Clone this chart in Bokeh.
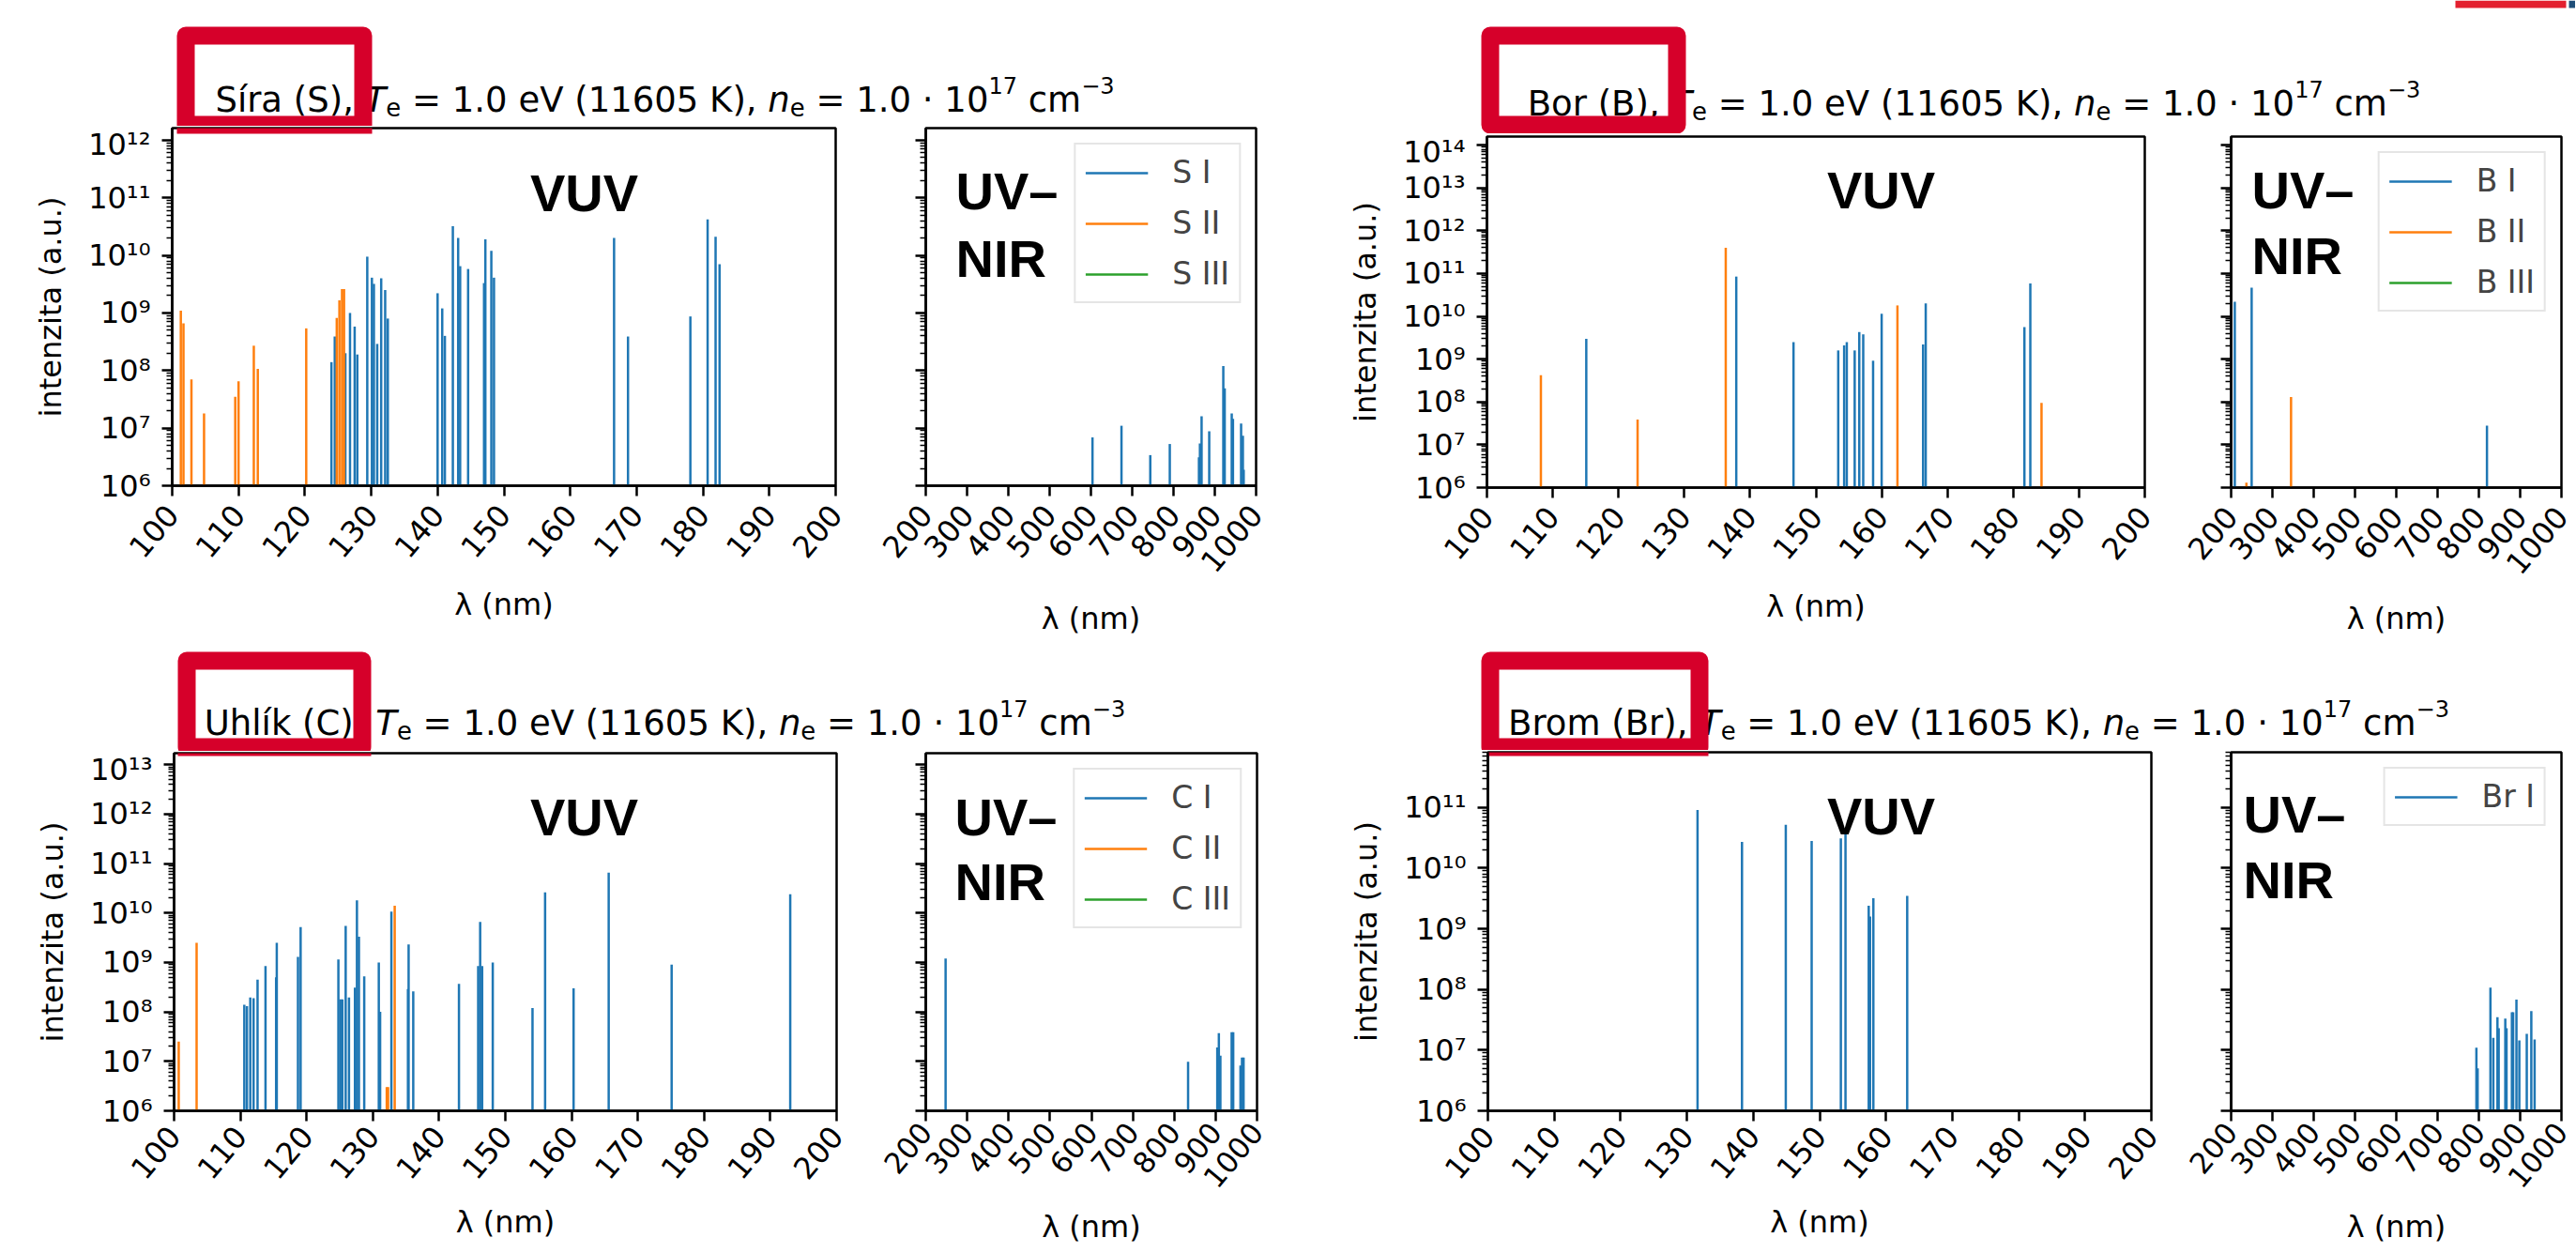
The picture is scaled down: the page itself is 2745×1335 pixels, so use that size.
import math
from bokeh.plotting import figure
from bokeh.layouts import row, column
from bokeh.models import (Range1d, FixedTicker, CustomJSTickFormatter, Legend,
                          LegendItem, ColumnDataSource)
from bokeh.core.properties import value
from bokeh.embed import file_html
from bokeh.resources import INLINE

# ------------------------------------------------------------------ data
# Síra (S)
S_I_wl = [124.0, 124.5, 126.1, 126.8, 127.5, 127.9, 129.4, 130.1, 130.4, 130.9,
          131.5, 132.1, 132.5, 140.0, 140.7, 141.1, 142.3, 143.1, 143.4, 144.6,
          147.0, 147.2, 148.1, 148.5, 166.6, 168.7, 178.1, 180.7, 181.9, 182.5,
          603.8, 674.0, 743.7, 791.0, 861.6, 864.0, 868.0, 886.5, 920.6, 924.0,
          941.0, 944.0, 963.7, 968.0, 970.0]
S_I_int = [1.4e8, 3.9e8, 2.0e8, 1.0e9, 5.8e8, 1.9e8, 9.5e9, 4.1e9, 3.2e9, 2.9e8,
           4.0e9, 2.5e9, 8.0e8, 2.2e9, 1.2e9, 4.0e8, 3.2e10, 2.0e10, 6.5e9, 5.8e9,
           3.3e9, 1.9e10, 1.2e10, 4.1e9, 2.0e10, 3.9e8, 8.7e8, 4.2e10, 2.1e10, 7.0e9,
           6.9e6, 1.1e7, 3.4e6, 5.3e6, 3.1e6, 5.4e6, 1.6e7, 8.8e6, 1.2e8, 4.9e7,
           1.8e7, 1.45e7, 1.2e7, 7.4e6, 1.9e6]
S_II_wl = [101.3, 101.7, 102.9, 104.8, 109.5, 110.0, 112.3, 112.9, 120.2, 124.8,
           125.2, 125.6, 125.9]
S_II_int = [1.1e9, 6.6e8, 7.0e7, 1.8e7, 3.5e7, 6.5e7, 2.7e8, 1.07e8, 5.4e8, 8.2e8,
            1.66e9, 2.6e9, 2.6e9]
S_III_wl = []
S_III_int = []

# Bor (B)
B_I_wl = [115.1, 137.9, 146.6, 153.4, 154.3, 154.7, 155.9, 156.6, 157.2, 158.7,
          160.0, 166.3, 166.7, 181.7, 182.6, 208.9, 249.7, 819.6]
B_I_int = [3.0e9, 8.5e10, 2.5e9, 1.6e9, 2.1e9, 2.5e9, 1.6e9, 4.3e9, 3.8e9, 9.2e8,
           1.15e10, 2.2e9, 2.0e10, 5.6e9, 5.9e10, 2.2e10, 4.7e10, 2.8e7]
B_II_wl = [108.2, 122.9, 136.3, 162.4, 184.3, 237.0, 345.1]
B_II_int = [4.2e8, 3.9e7, 4.0e11, 1.8e10, 9.5e7, 1.3e6, 1.3e8]
B_III_wl = []
B_III_int = []

# Uhlík (C)
C_I_wl = [110.6, 111.0, 111.5, 112.0, 112.6, 113.8, 115.4, 115.5, 118.7, 119.1,
          124.8, 125.1, 125.4, 125.9, 126.4, 127.3, 127.6, 127.9, 128.7, 130.9,
          131.1, 132.8, 135.3, 135.4, 136.1, 143.0, 145.9, 146.2, 146.5, 148.1,
          154.1, 156.0, 160.3, 165.6, 175.1, 193.0, 247.9, 833.5, 904.0, 907.8,
          911.5, 938.7, 942.5, 960.0, 963.7, 967.5]
C_I_int = [1.4e8, 1.3e8, 1.95e8, 1.9e8, 4.5e8, 8.5e8, 5.0e8, 2.5e9, 1.3e9, 5.2e9,
           1.15e9, 1.8e8, 1.8e8, 5.5e9, 1.95e8, 3.1e8, 1.8e10, 3.3e9, 5.2e8, 1.0e9,
           1.0e8, 1.07e10, 2.9e8, 2.3e9, 2.6e8, 3.7e8, 8.5e8, 6.6e9, 8.5e8, 1.0e9,
           1.2e8, 2.6e10, 3.0e8, 6.5e10, 9.0e8, 2.4e10, 1.2e9, 9.8e6, 1.9e7, 3.7e7,
           1.3e7, 3.9e7, 3.9e7, 8.2e6, 1.2e7, 1.2e7]
C_II_wl = [100.7, 103.4, 132.1, 132.3, 133.3]
C_II_int = [2.5e7, 2.5e9, 3.0e6, 3.0e6, 1.4e10]
C_III_wl = []
C_III_int = []

# Brom (Br)
Br_I_wl = [131.6, 138.3, 144.9, 148.8, 153.2, 153.9, 157.4, 157.6, 158.1, 163.2,
           794.0, 797.0, 828.0, 835.0, 845.0, 848.0, 864.0, 867.0, 880.0, 883.0,
           891.0, 898.0, 916.0, 927.0, 935.0]
Br_I_int = [9.1e10, 2.7e10, 5.2e10, 2.8e10, 3.1e10, 3.7e10, 2.4e9, 1.6e9, 3.2e9, 3.5e9,
            1.1e7, 5.0e6, 1.07e8, 1.6e7, 3.5e7, 2.3e7, 3.3e7, 2.3e7, 4.2e7, 4.2e7,
            6.8e7, 1.45e7, 1.85e7, 4.4e7, 1.5e7]

VUV_TICKS = [100, 110, 120, 130, 140, 150, 160, 170, 180, 190, 200]
NIR_TICKS = [200, 300, 400, 500, 600, 700, 800, 900, 1000]

# ------------------------------------------------------------------ style
BLUE, ORANGE, GREEN = "#1f77b4", "#ff7f0e", "#2ca02c"
RED = "#d6002a"
BASE = 1e6
FONT = "DejaVu Sans"
BOLD_FONT = "Liberation Sans"
LOG_TICKS = [10.0 ** k for k in range(6, 15)]
LOG_MINOR = [m * 10.0 ** k for k in range(5, 15) for m in range(2, 10)]
ANGLE = math.radians(50)

SUP_JS = """
const s = {"0":"\u2070","1":"\u00b9","2":"\u00b2","3":"\u00b3","4":"\u2074",
           "5":"\u2075","6":"\u2076","7":"\u2077","8":"\u2078","9":"\u2079","-":"\u207b"};
const e = Math.round(Math.log10(tick));
return "10" + String(e).split("").map(c => s[c]).join("");
"""

# DejaVu Sans advance widths (em)
W = {' ': 0.318, '(': 0.390, ')': 0.390, ',': 0.318, '.': 0.318, '=': 0.838,
     '\u00b7': 0.318, '\u2212': 0.838, 'S': 0.635, '\u00ed': 0.278, 'r': 0.411,
     'a': 0.613, 'e': 0.615, 'V': 0.684, 'K': 0.656, 'c': 0.550, 'm': 0.974,
     'B': 0.686, 'o': 0.612, 'U': 0.732, 'h': 0.634, 'l': 0.278, 'k': 0.579,
     'C': 0.698, 'T': 0.611, 'n': 0.634}
for d in "0123456789":
    W[d] = 0.636


def tw(s, size):
    return sum(W.get(c, 0.6) for c in s) * size


def style_axis(ax, size="32px"):
    ax.axis_line_width = 2.5
    ax.axis_line_color = "black"
    ax.major_tick_line_width = 2.5
    ax.major_tick_line_color = "black"
    ax.minor_tick_line_width = 1.5
    ax.minor_tick_line_color = "black"
    ax.major_tick_out = 11
    ax.major_tick_in = 0
    ax.minor_tick_out = 6
    ax.minor_tick_in = 0
    ax.major_label_text_font = FONT
    ax.major_label_text_font_size = size
    ax.major_label_text_color = "black"
    ax.axis_label_text_font = FONT
    ax.axis_label_text_font_size = "32px"
    ax.axis_label_text_font_style = "normal"
    ax.axis_label_text_color = "black"


def to_data(frame, xr, ylog, px, py):
    fx0, fy0, fx1, fy1 = frame
    x = xr[0] + (px - fx0) / (fx1 - fx0) * (xr[1] - xr[0])
    ly = ylog[1] - (py - fy0) / (fy1 - fy0) * (ylog[1] - ylog[0])
    return x, 10.0 ** ly


def make_plot(kind, width, height, bl, br, bt, bb, ytop, series, frame,
              stand, xfont="32px"):
    xr = (100, 200) if kind == "vuv" else (200, 1000)
    ylog = (6.0, ytop)
    p = figure(width=width, height=height, x_range=Range1d(*xr),
               y_range=Range1d(BASE, 10.0 ** ytop), y_axis_type="log",
               output_backend="svg", toolbar_location=None,
               min_border_left=bl, min_border_right=br,
               min_border_top=bt, min_border_bottom=bb)
    p.grid.visible = False
    p.outline_line_color = "black"
    p.outline_line_width = 2.5
    p.background_fill_color = "white"
    p.border_fill_color = "white"

    rends = []
    for label, color, wl, it in series:
        if len(wl):
            src = ColumnDataSource(dict(x=list(wl), top=list(it),
                                        base=[BASE] * len(wl)))
        else:
            # ion without lines in range: nothing drawn, keeps its legend entry
            src = ColumnDataSource(dict(x=[float("nan")], top=[float("nan")],
                                        base=[float("nan")]))
        r = p.segment(x0="x", y0="base", x1="x", y1="top", source=src,
                      line_color=color, line_width=2.5)
        rends.append((label, r))

    style_axis(p.xaxis[0], xfont)
    style_axis(p.yaxis[0])
    p.xaxis.ticker = FixedTicker(ticks=VUV_TICKS if kind == "vuv" else NIR_TICKS,
                                 minor_ticks=[])
    p.xaxis.major_label_orientation = ANGLE
    p.xaxis.axis_label = "\u03bb (nm)"
    p.xaxis.major_label_standoff = stand[0]
    p.xaxis.axis_label_standoff = stand[1]
    p.yaxis.ticker = FixedTicker(ticks=LOG_TICKS, minor_ticks=LOG_MINOR)
    if kind == "vuv":
        p.yaxis.formatter = CustomJSTickFormatter(code=SUP_JS)
        p.yaxis.axis_label = "intenzita (a.u.)"
        p.yaxis.major_label_standoff = 12
        p.yaxis.axis_label_standoff = 18
    else:
        p.yaxis.formatter = CustomJSTickFormatter(code="return '';")
        legend = Legend(items=[LegendItem(label=l, renderers=[r]) for l, r in rends],
                        location="top_right", margin=16, padding=10, spacing=15,
                        glyph_width=67, glyph_height=34, label_height=34,
                        label_standoff=26, label_text_font=FONT,
                        label_text_font_size="33px", border_line_color="#cccccc",
                        border_line_width=2, background_fill_alpha=1.0)
        p.add_layout(legend)
    return p, xr, ylog


def add_text(p, frame, xr, ylog, px, py, txt, align):
    x, y = to_data(frame, xr, ylog, px, py)
    p.text(x=[x], y=[y], text=[txt], text_font=value(BOLD_FONT),
           text_font_style="bold", text_font_size="56px", text_align=align,
           text_baseline="alphabetic", text_color="black")


def add_box_piece(p, frame, xr, ylog, box):
    bx0, by0, bx1, by1 = box
    x0, y0 = to_data(frame, xr, ylog, bx0, by1)
    x1, y1 = to_data(frame, xr, ylog, bx1, frame[1] - 8)
    p.quad(left=[x0], right=[x1], bottom=[y0], top=[y1], fill_color=RED,
           line_color=None)


def make_strip(w, h, x0, y0, name, center, baseline, box, F=37.0, extras=None):
    s = figure(width=w, height=h, x_range=Range1d(x0, x0 + w),
               y_range=Range1d(y0 + h, y0), x_axis_type=None, y_axis_type=None,
               output_backend="svg", toolbar_location=None, min_border=0)
    s.outline_line_color = None
    s.background_fill_color = "white"
    s.border_fill_color = "white"
    parts = [(name + ", ", "normal", 1.0, 0.0),
             ("T", "italic", 1.0, 0.0),
             ("e", "normal", 0.7, 0.2),
             (" = 1.0 eV (11605 K), ", "normal", 1.0, 0.0),
             ("n", "italic", 1.0, 0.0),
             ("e", "normal", 0.7, 0.2),
             (" = 1.0 \u00b7 10", "normal", 1.0, 0.0),
             ("17", "normal", 0.65, -0.42),
             (" cm", "normal", 1.0, 0.0),
             ("\u22123", "normal", 0.65, -0.42)]
    total = sum(tw(t, F * k) for t, _, k, _ in parts)
    x = center - total / 2.0
    for t, st, k, dy in parts:
        size = F * k
        lead = len(t) - len(t.lstrip(" "))
        core = t.strip(" ")
        s.text(x=[x + lead * W[' '] * size], y=[baseline + dy * F], text=[core],
               text_font=value(FONT), text_font_size="%.2fpx" % size,
               text_font_style=st, text_align="left", text_baseline="alphabetic",
               text_color="black")
        x += tw(t, size)
    bx0, by0, bx1, by1 = box
    t = 19
    s.rect(x=[(bx0 + bx1) / 2.0], y=[(by0 + by1) / 2.0], width=[bx1 - bx0 - t],
           height=[by1 - by0 - t], fill_color=None, line_color=RED,
           line_width=t, line_join="round")
    if extras:
        for (ex0, ey0, ex1, ey1, col) in extras:
            s.quad(left=[ex0], right=[ex1], top=[ey0], bottom=[ey1],
                   fill_color=col, line_color=None)
    return s


def panel(name, strip, vuv, nir, series, ytop, texts, stand_vuv, stand_nir,
          nir_font="32px", extras=None):
    sw, sh, sx0, sy0, center, baseline, box = strip
    st = make_strip(sw, sh, sx0, sy0, name, center, baseline, box, extras=extras)
    vw, vh, vbl, vbr, vbt, vbb, vframe = vuv
    pv, xrv, yl = make_plot("vuv", vw, vh, vbl, vbr, vbt, vbb, ytop, series, vframe,
                            stand_vuv)
    nw, nh, nbl, nbr, nbt, nbb, nframe = nir
    pn, xrn, _ = make_plot("nir", nw, nh, nbl, nbr, nbt, nbb, ytop, series, nframe,
                           stand_nir, nir_font)
    (vx, vy), (ux, uy, ny) = texts
    add_text(pv, vframe, xrv, yl, vx, vy, "VUV", "center")
    add_text(pn, nframe, xrn, yl, ux, uy, "UV\u2013", "left")
    add_text(pn, nframe, xrn, yl, ux, ny, "NIR", "left")
    if box[3] > vframe[1]:
        add_box_piece(pv, vframe, xrv, yl, box)
    return st, row(pv, pn)


S_series = [("S I", BLUE, S_I_wl, S_I_int), ("S II", ORANGE, S_II_wl, S_II_int),
            ("S III", GREEN, S_III_wl, S_III_int)]
B_series = [("B I", BLUE, B_I_wl, B_I_int), ("B II", ORANGE, B_II_wl, B_II_int),
            ("B III", GREEN, B_III_wl, B_III_int)]
C_series = [("C I", BLUE, C_I_wl, C_I_int), ("C II", ORANGE, C_II_wl, C_II_int),
            ("C III", GREEN, C_III_wl, C_III_int)]
Br_series = [("Br I", BLUE, Br_I_wl, Br_I_int)]

sS, rS = panel("S\u00edra (S)",
               (1408, 134, 0, 0, 708, 106, (188, 28, 396, 142)),
               (920, 556, 183, 30, 2, 173, (183, 136, 890, 517)),
               (488, 556, 66, 70, 2, 173, (986, 136, 1338, 517)),
               S_series, 12.21, ((622, 205), (1018, 203, 275)), (14, 18), (14, 17))
sB, rB = panel("Bor (B)",
               (1336, 142, 1408, 0, 2103, 110, (1578, 28, 1796, 142)),
               (907, 548, 176, 30, 3, 171, (1584, 145, 2285, 519)),
               (429, 548, 62, 15, 3, 171, (2377, 145, 2729, 519)),
               B_series, 14.2, ((2004, 202), (2399, 202, 272)), (14, 18), (14, 15),
               extras=[(2616, 0, 2734, 8, "#e3202f"), (2737, 0, 2745, 8, "#1f4e79")])
sC, rC = panel("Uhl\u00edk (C)",
               (1408, 110, 0, 690, 708, 770, (189, 694, 395, 805)),
               (921, 534, 185, 30, 2, 151, (185, 802, 891, 1183)),
               (487, 534, 65, 69, 2, 151, (986, 802, 1339, 1183)),
               C_series, 13.23, ((622, 870), (1017, 870, 939)), (10, 14), (6, 10),
               "31px")
sBr, rBr = panel("Brom (Br)",
                 (1336, 109, 1408, 690, 2108, 770, (1578, 694, 1820, 805)),
                 (914, 535, 177, 30, 2, 151, (1585, 801, 2292, 1183)),
                 (422, 535, 55, 15, 2, 151, (2377, 801, 2729, 1183)),
                 Br_series, 11.91, ((2004, 869), (2390, 867, 937)), (10, 14), (6, 10),
                 "31px")

left = column(sS, rS, sC, rC)
right = column(sB, rB, sBr, rBr)
layout = row(left, right)

with open("out.html", "w", encoding="utf-8") as f:
    f.write(file_html(layout, INLINE, title="Spektra"))
